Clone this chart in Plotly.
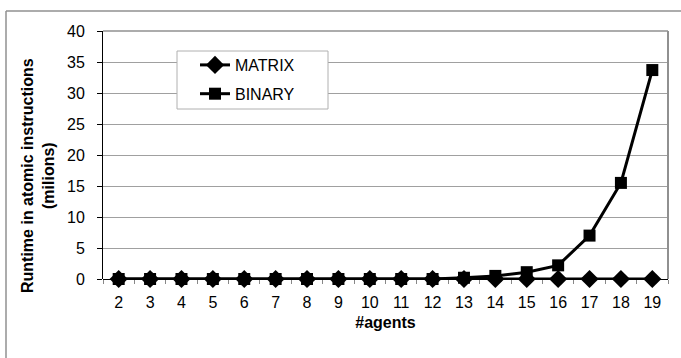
import plotly.graph_objects as go

agents = [str(i) for i in range(2, 20)]
matrix = [0] * 18
binary = [0, 0, 0, 0, 0, 0, 0, 0, 0, 0, 0, 0.2, 0.5, 1.1, 2.2, 7.0, 15.5, 33.7]
y_ticks = [0, 5, 10, 15, 20, 25, 30, 35, 40]

W, H = 681, 358
L, R, T, B = 103, 13, 31, 79
pw, ph = W - L - R, H - T - B

def px_x(p):
    return (p - L) / pw

def px_y(p):
    return (H - B - p) / ph

fig = go.Figure()
fig.add_trace(go.Scatter(x=agents, y=matrix, name="MATRIX", mode="lines+markers",
                         line=dict(color="black", width=3), cliponaxis=False,
                         marker=dict(symbol="diamond", size=14, color="black"),
                         legendgroup="a"))
fig.add_trace(go.Scatter(x=agents, y=binary, name="BINARY", mode="lines+markers",
                         line=dict(color="black", width=3), cliponaxis=False,
                         marker=dict(symbol="square", size=12, color="black"),
                         legendgroup="b"))

fnt = "Liberation Sans, Arial"

fig.update_layout(
    width=W, height=H,
    margin=dict(l=L, r=R, t=T, b=B),
    paper_bgcolor="white", plot_bgcolor="white",
    font=dict(family=fnt, size=16, color="black"),
    showlegend=True,
    legend=dict(x=px_x(195), y=px_y(48), xanchor="left", yanchor="top",
                bgcolor="rgba(0,0,0,0)", borderwidth=0,
                font=dict(size=16, family=fnt),
                traceorder="grouped", tracegroupgap=5),
    xaxis=dict(type="category", range=[-0.5, 17.5], tickfont=dict(family=fnt, size=16),
               ticks="outside", tickson="boundaries", ticklen=4, tickcolor="#888",
               ticklabelstandoff=12,
               showline=False, showgrid=False, zeroline=False,
               title=dict(text="<b>#agents</b>", font=dict(family=fnt, size=16), standoff=6)),
    yaxis=dict(range=[0, 40], tickvals=y_ticks, tickfont=dict(family=fnt, size=16),
               ticks="outside", ticklen=5, tickcolor="black",
               ticklabelstandoff=9,
               showline=True, linecolor="black", linewidth=1,
               showgrid=True, gridcolor="#a0a0a0", gridwidth=1,
               zeroline=True, zerolinecolor="black", zerolinewidth=1),
)

fig.add_annotation(xref="paper", yref="paper", x=px_x(38), y=px_y(176),
                   xanchor="center", yanchor="middle",
                   text="<b>Runtime in atomic instructions<br>(milions)</b>",
                   textangle=-90, showarrow=False,
                   font=dict(family=fnt, size=16))

# legend box
fig.add_shape(type="rect", xref="paper", yref="paper", layer="above",
              x0=px_x(177), x1=px_x(328), y0=px_y(109), y1=px_y(51),
              fillcolor="white", line=dict(color="#b0b0b0", width=1))
# plot-area border (top/right grey)
fig.add_shape(type="line", xref="paper", yref="paper", x0=0, x1=1, y0=1, y1=1,
              line=dict(color="#909090", width=1.5))
fig.add_shape(type="line", xref="paper", yref="paper", x0=1, x1=1, y0=0, y1=1,
              line=dict(color="#909090", width=2))
# outer chart frame (top and left visible)
fig.add_shape(type="line", xref="paper", yref="paper", x0=px_x(6), x1=px_x(700), y0=px_y(11), y1=px_y(11),
              line=dict(color="#909090", width=1.5))
fig.add_shape(type="line", xref="paper", yref="paper", x0=px_x(6), x1=px_x(6), y0=px_y(11), y1=px_y(370),
              line=dict(color="#909090", width=1.5))

fig.write_html("out.html", config={"displayModeBar": False},
               post_script="document.body.style.margin='0';document.body.style.overflow='hidden';")
